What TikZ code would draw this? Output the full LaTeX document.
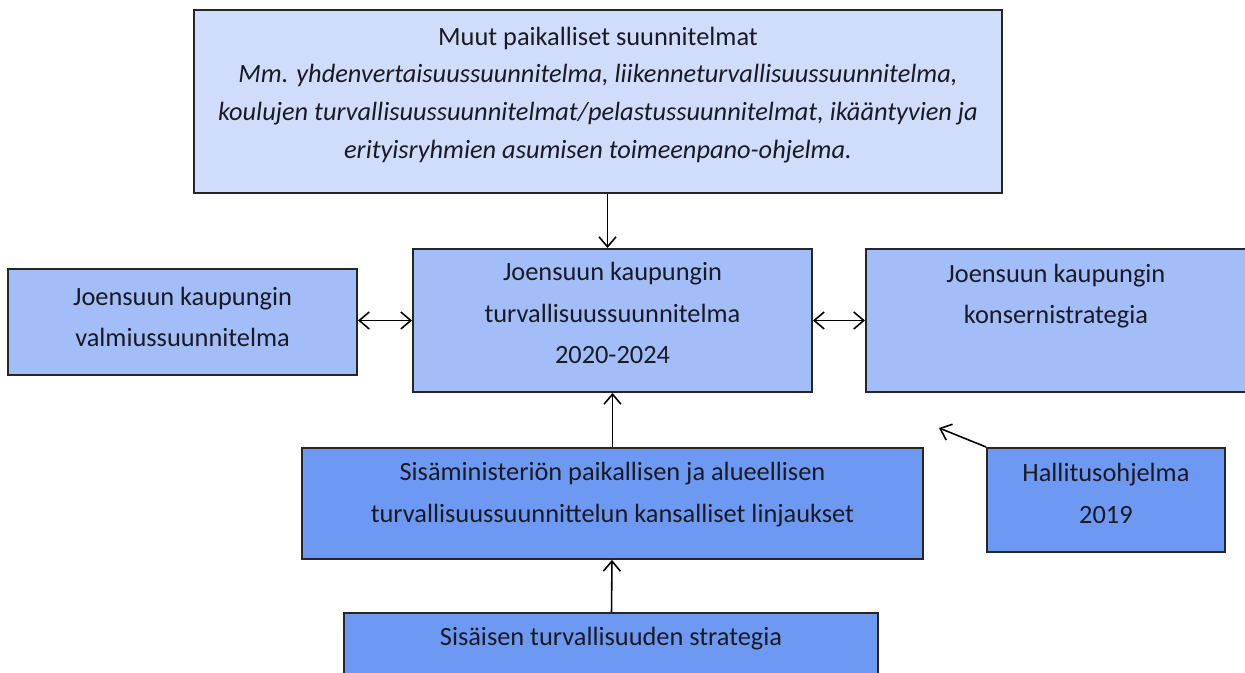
\documentclass[tikz,border=0pt]{standalone}
\usepackage{fontspec}
\setmainfont{Carlito}
\usetikzlibrary{positioning,arrows.meta}
\definecolor{palelight}{HTML}{CFDDFB}
\definecolor{palemid}{HTML}{A2BDF8}
\definecolor{paledark}{HTML}{6E99F3}
\definecolor{inktext}{HTML}{1A1A24}

\begin{document}
\begin{tikzpicture}[
		box/.style={draw=black!85, line width=1.1pt, align=center, inner sep=0pt,
			text=inktext, font=\fontsize{15}{23.5}\selectfont},
		lightbox/.style={box, fill=palelight},
		midbox/.style={box, fill=palemid},
		darkbox/.style={box, fill=paledark},
		link/.style={line width=0.9pt, >={Straight Barb[length=2mm,width=3.4mm]}}
		]
		\useasboundingbox (0,0) rectangle (24.9,-13.46);
		\node[midbox, minimum width=7.98cm, minimum height=2.86cm](Plan) at (12.25,-6.41)
		{Joensuun kaupungin\\turvallisuussuunnitelma\\2020-2024\\[-15pt]\mbox{}};
		\node[lightbox, above = 1.08cm of Plan, xshift = -0.29cm, minimum width=16.16cm,
		minimum height=3.66cm, font=\fontsize{15}{21.5}\selectfont](Other)
		{Muut paikalliset suunnitelmat\\
			\itshape Mm. yhdenvertaisuussuunnitelma, liikenneturvallisuussuunnitelma,\\
			\itshape koulujen turvallisuussuunnitelmat/pelastussuunnitelmat, ikääntyvien ja\\
			\itshape erityisryhmien asumisen toimeenpano-ohjelma.\\[-4mm]\mbox{}};
		\node[midbox, left = 1.08cm of Plan, yshift = -0.03cm, minimum width=6.98cm,
		minimum height=2.12cm](Ready)
		{Joensuun kaupungin\\valmiussuunnitelma\\[-18pt]\mbox{}};
		\node[midbox, right = 1.04cm of Plan, minimum width=7.6cm,
		minimum height=2.86cm](Group)
		{Joensuun kaupungin\\konsernistrategia\\[7pt]\mbox{}};
		\node[darkbox, below = 1.08cm of Plan, minimum width=12.42cm,
		minimum height=2.22cm](Ministry)
		{Sisäministeriön paikallisen ja alueellisen\\turvallisuussuunnittelun kansalliset linjaukset\\[-11pt]\mbox{}};
		\node[darkbox, right = 1.24cm of Ministry, yshift = 0.07cm, minimum width=4.76cm,
		minimum height=2.08cm](Gov)
		{Hallitusohjelma\\2019\\[-16pt]\mbox{}};
		\node[darkbox, below = 1.04cm of Ministry, xshift = -0.03cm, minimum width=10.68cm,
		minimum height=2.22cm](Inner)
		{Sisäisen turvallisuuden strategia\\[13pt]\mbox{}};
		\coordinate (GovTip) at ([xshift=-0.94cm, yshift=0.38cm]Gov.north west);
		
		\draw[link,->] ([xshift=-0.1cm]Plan.north |- Other.south) -- ([xshift=-0.1cm]Plan.north);
		\draw[link,<->] (Ready.east |- Plan) -- (Plan.west);
		\draw[link,<->] (Plan) -- (Group);
		\draw[link,->] (Ministry) -- (Plan);
		\draw[link,->] (Inner) -- (Ministry);
		\draw[link,->] (Gov.north west) -- (GovTip);
	\end{tikzpicture}
\end{document}
